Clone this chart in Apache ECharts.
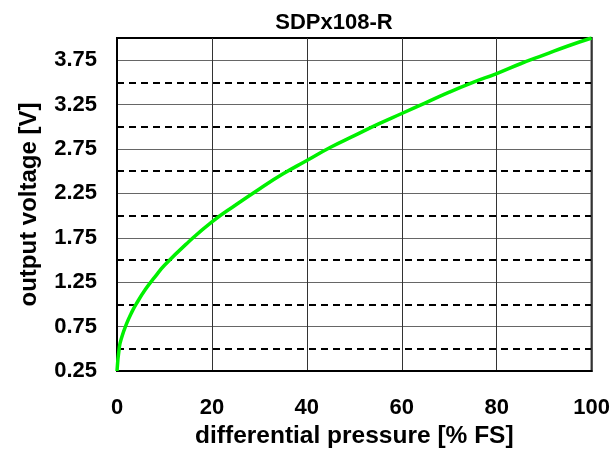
<!DOCTYPE html>
<html>
<head>
<meta charset="utf-8">
<script src="https://cdn.jsdelivr.net/npm/echarts@6/dist/echarts.min.js"></script>
<style>
html,body{margin:0;padding:0;background:#fff;}
#c{width:613px;height:454px;}
</style>
</head>
<body>
<div id="c"></div>
<script>
var titleText = 'SDPx108-R';
var xName = 'differential pressure [% FS]';
var yName = 'output voltage [V]';
var pressure = [0, 0.5, 1, 2, 3, 4, 6, 8, 10, 15, 20, 25, 30, 35, 40, 45, 50, 55, 60, 65, 70, 75, 80, 85, 90, 95, 100];
var voltage  = [0.25, 0.52, 0.63, 0.78, 0.90, 1.00, 1.17, 1.31, 1.44, 1.70, 1.93, 2.12, 2.30, 2.47, 2.62, 2.77, 2.90, 3.03, 3.15, 3.27, 3.39, 3.50, 3.60, 3.71, 3.81, 3.91, 4.00];
var xTicks = [0, 20, 40, 60, 80, 100];
var yLabels = ['0.25', '0.75', '1.25', '1.75', '2.25', '2.75', '3.25', '3.75'];

var font = 'Liberation Sans, Arial, sans-serif';
var chart = echarts.init(document.getElementById('c'));
var pts = pressure.map(function (p, i) { return [p, voltage[i]]; });

chart.setOption({
  animation: false,
  title: {
    text: titleText, left: 329, textAlign: 'center', top: 7,
    textStyle: { fontFamily: font, fontWeight: 'bold', fontSize: 22, color: '#000' }
  },
  grid: { left: 117, right: 21, top: 38, bottom: 79, show: true, borderColor: '#000', borderWidth: 2, backgroundColor: 'transparent' },
  xAxis: {
    type: 'value', min: xTicks[0], max: xTicks[xTicks.length - 1], interval: 20,
    name: xName, nameLocation: 'middle', nameGap: 53,
    nameTextStyle: { fontFamily: font, fontWeight: 'bold', fontSize: 24.5, color: '#000' },
    axisLine: { show: true, lineStyle: { color: '#000', width: 2 } },
    axisTick: { show: false },
    axisLabel: { fontFamily: font, fontWeight: 'bold', fontSize: 22, color: '#000', margin: 26 },
    splitLine: { show: true, lineStyle: { color: '#333', width: 1 } }
  },
  yAxis: [{
    type: 'value', min: 0.25, max: 4, interval: 0.25,
    name: yName, nameLocation: 'middle', nameGap: 76,
    nameTextStyle: { fontFamily: font, fontWeight: 'bold', fontSize: 24, color: '#000' },
    axisLine: { show: true, lineStyle: { color: '#000', width: 2 } },
    axisTick: { show: false },
    axisLabel: {
      fontFamily: font, fontWeight: 'bold', fontSize: 22, color: '#000', margin: 20,
      formatter: function (v) {
        var s = v.toFixed(2);
        return yLabels.indexOf(s) >= 0 ? s : '';
      }
    },
    splitLine: { show: true, lineStyle: { color: ['#666', 'transparent'], width: 1.2 } }
  }, {
    type: 'value', min: 0.25, max: 4, interval: 0.25, position: 'left',
    axisLine: { show: false }, axisTick: { show: false }, axisLabel: { show: false },
    splitLine: { show: true, lineStyle: { color: ['transparent', '#000'], width: 2, type: [7, 5] } }
  }],
  series: [{
    type: 'line', data: pts, yAxisIndex: 0, smooth: true, showSymbol: false,
    lineStyle: { color: '#00f000', width: 3.5 }, z: 5
  }]
});
</script>
</body>
</html>
